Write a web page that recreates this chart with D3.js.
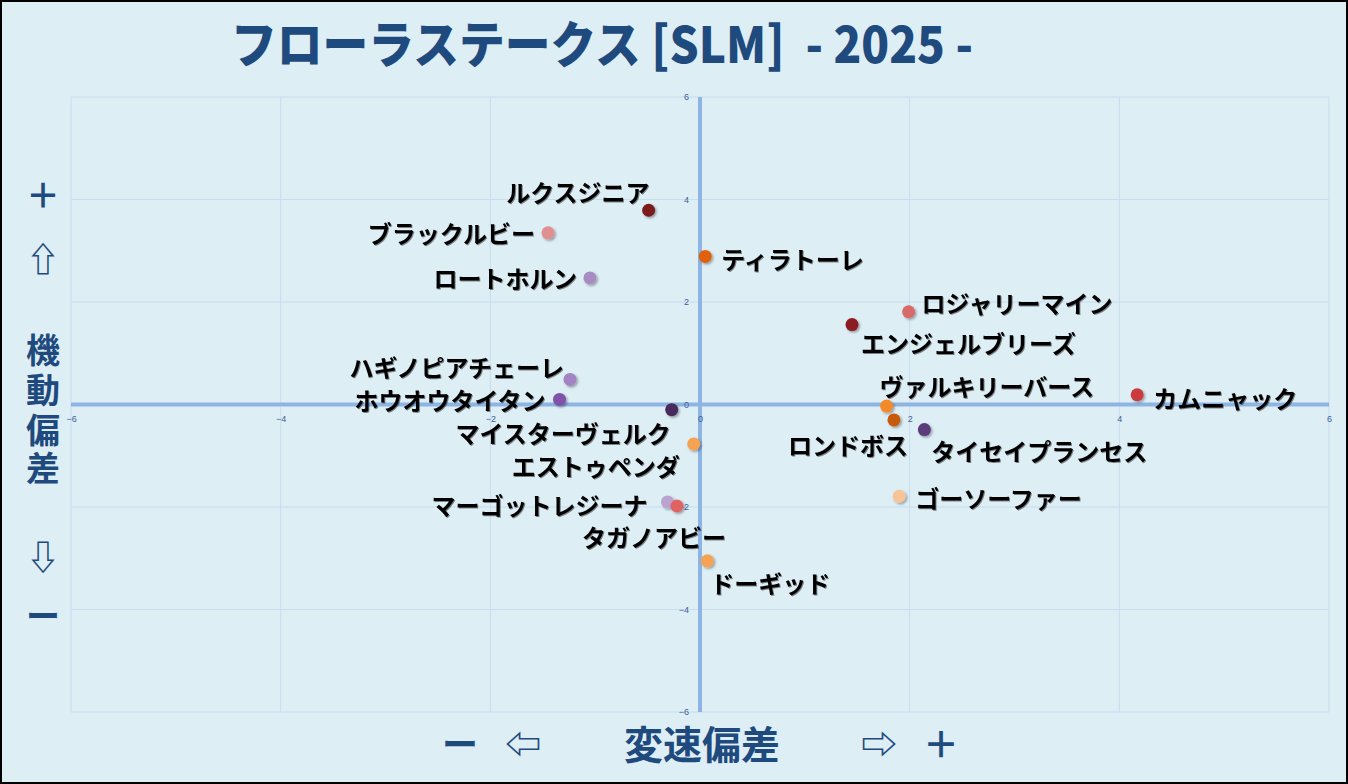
<!DOCTYPE html>
<html>
<head>
<meta charset="utf-8">
<script src="https://cdn.jsdelivr.net/npm/d3@7"></script>
<style>
  body { margin: 0; background: #fff; }
  svg { display: block; }
</style>
</head>
<body>
<div id="chart"></div>
<script>
const width = 1348;
const height = 784;

// horse names and their two deviations
const horses = ["ルクスジニア", "ブラックルビー", "ロートホルン", "ティラトーレ", "ロジャリーマイン",
  "エンジェルブリーズ", "ハギノピアチェーレ", "ホウオウタイタン", "マイスターヴェルク", "ヴァルキリーバース",
  "ロンドボス", "タイセイプランセス", "カムニャック", "エストゥペンダ", "ゴーソーファー",
  "マーゴットレジーナ", "タガノアビー", "ドーギッド"];
const speedDev = [-0.49, -1.45, -1.05, 0.05, 1.99, 1.45, -1.24, -1.34, -0.27, 1.78,
  1.85, 2.14, 4.17, -0.06, 1.90, -0.31, -0.22, 0.07];
const mobilityDev = [3.79, 3.35, 2.47, 2.89, 1.81, 1.56, 0.49, 0.10, -0.10, -0.03,
  -0.30, -0.49, 0.19, -0.77, -1.79, -1.90, -1.98, -3.05];
const xTicks = [-6, -4, -2, 0, 2, 4, 6];
const yTicks = [-6, -4, -2, 0, 2, 4, 6];

const dotColors = ["#7a1d1f", "#e09090", "#a68cc2", "#e0600e", "#d96a6a",
  "#8c1f22", "#a283c4", "#7f52aa", "#4a2b5c", "#f28a2c",
  "#c85a0c", "#5b3b7a", "#c93a3c", "#f5a252", "#f8c396",
  "#baa3cf", "#e06464", "#f5a252"];

// label placement: anchor, dx, dy (from dot centre)
const labelLayout = [["end", 1, -19], ["end", -13, 0], ["end", -13, 0], ["start", 16, 2], ["start", 13, -9],
  ["start", 9, 18], ["end", -6, -13], ["end", -14, 0], ["end", -1, 23], ["start", -7, -21],
  ["end", 14, 25], ["start", 7, 21], ["start", 16, 3], ["end", -14, 22], ["start", 16, 1],
  ["end", -20, 3], ["end", 49, 31], ["start", 3, 22]];

const points = horses.map((h, i) => ({name: h, x: speedDev[i], y: mobilityDev[i], color: dotColors[i], lab: labelLayout[i]}));

const navy = "#1f4a7e";
const jp = "'Noto Sans CJK JP', 'Noto Sans', sans-serif";

const svg = d3.select("#chart")
  .append("svg")
  .attr("width", width)
  .attr("height", height);

const defs = svg.append("defs");
defs.append("filter").attr("id", "dotShadow")
  .attr("x", "-50%").attr("y", "-50%").attr("width", "200%").attr("height", "200%")
  .append("feDropShadow")
  .attr("dx", 1.5).attr("dy", 1.5).attr("stdDeviation", 1.2)
  .attr("flood-color", "#000").attr("flood-opacity", 0.35);
defs.append("filter").attr("id", "textShadow")
  .attr("x", "-10%").attr("y", "-30%").attr("width", "120%").attr("height", "160%")
  .append("feDropShadow")
  .attr("dx", 1).attr("dy", 1).attr("stdDeviation", 0.7)
  .attr("flood-color", "#000").attr("flood-opacity", 0.45);

// background + frame
svg.append("rect")
  .attr("x", 1).attr("y", 1)
  .attr("width", width - 2).attr("height", height - 2)
  .attr("fill", "#ddeef5")
  .attr("stroke", "#000")
  .attr("stroke-width", 2);

const xScale = d3.scaleLinear().domain([-6, 6]).range([71, 1329]);
const yScale = d3.scaleLinear().domain([-6, 6]).range([712, 97]);

/* grid */
svg.append("g").selectAll("line.vg")
  .data(xTicks)
  .enter()
  .append("line")
  .attr("x1", d => xScale(d)).attr("x2", d => xScale(d))
  .attr("y1", yScale(6)).attr("y2", yScale(-6))
  .attr("stroke", "#c8ddf0").attr("stroke-width", 1);

svg.append("g").selectAll("line.hg")
  .data(yTicks)
  .enter()
  .append("line")
  .attr("x1", xScale(-6)).attr("x2", xScale(6))
  .attr("y1", d => yScale(d)).attr("y2", d => yScale(d))
  .attr("stroke", "#c8ddf0").attr("stroke-width", 1);

/* zero axes */
svg.append("line")
  .attr("x1", xScale(-6)).attr("x2", xScale(6))
  .attr("y1", yScale(0)).attr("y2", yScale(0))
  .attr("stroke", "#8db4e3").attr("stroke-width", 4);
svg.append("line")
  .attr("x1", xScale(0)).attr("x2", xScale(0))
  .attr("y1", yScale(6)).attr("y2", yScale(-6))
  .attr("stroke", "#8db4e3").attr("stroke-width", 4);

/* tick labels */
const xAxis = d3.axisBottom(xScale).tickValues(xTicks).tickSize(0).tickPadding(11);
const yAxis = d3.axisLeft(yScale).tickValues(yTicks).tickSize(0).tickPadding(11);

const gx = svg.append("g")
  .attr("transform", "translate(0," + yScale(0) + ")")
  .call(xAxis);
const gy = svg.append("g")
  .attr("transform", "translate(" + xScale(0) + ",0)")
  .call(yAxis);
[gx, gy].forEach(g => {
  g.select(".domain").remove();
  g.selectAll("text")
    .attr("fill", "#3c5f98")
    .style("font-family", "'Liberation Sans', sans-serif")
    .style("font-size", "9px");
});

/* dots */
svg.append("g").selectAll("circle")
  .data(points)
  .enter()
  .append("circle")
  .attr("cx", d => xScale(d.x))
  .attr("cy", d => yScale(d.y))
  .attr("r", 6.5)
  .attr("fill", d => d.color)
  .attr("filter", "url(#dotShadow)");

/* labels */
svg.append("g").selectAll("text")
  .data(points)
  .enter()
  .append("text")
  .attr("x", d => xScale(d.x) + d.lab[1])
  .attr("y", d => yScale(d.y) + d.lab[2])
  .attr("text-anchor", d => d.lab[0])
  .attr("dominant-baseline", "central")
  .attr("fill", "#000")
  .attr("filter", "url(#textShadow)")
  .style("font-family", jp)
  .style("font-weight", 700)
  .style("font-size", "24px")
  .text(d => d.name);

/* title */
const title = svg.append("text")
  .attr("x", 231)
  .attr("y", 63)
  .attr("fill", navy)
  .style("font-family", jp)
  .style("font-weight", 900)
  .style("font-size", "50px")
  .text("フローラステークス [SLM]  - 2025 -")
  .attr("xml:space", "preserve");
title.attr("textLength", 742).attr("lengthAdjust", "spacingAndGlyphs");

/* left axis title */
const leftTitle = svg.append("g")
  .attr("fill", navy)
  .style("font-family", jp)
  .style("font-weight", 700)
  .attr("text-anchor", "middle");
const leftItems = [["＋", 193], ["⇧", 257], ["機", 348], ["動", 388], ["偏", 428], ["差", 466], ["⇩", 555], ["ー", 614]];
leftItems.forEach(d => {
  leftTitle.append("text")
    .attr("x", 43).attr("y", d[1])
    .attr("dominant-baseline", "central")
    .style("font-size", "34px")
    .text(d[0]);
});

/* bottom axis title */
const bottomTitle = svg.append("g")
  .attr("fill", navy)
  .style("font-family", jp)
  .style("font-weight", 700)
  .attr("text-anchor", "middle");
const bottomItems = [["ー", 460, 36], ["⇦", 523, 36], ["変速偏差", 702, 39], ["⇨", 879, 36], ["＋", 941, 36]];
bottomItems.forEach(d => {
  bottomTitle.append("text")
    .attr("x", d[1]).attr("y", 742)
    .attr("dominant-baseline", "central")
    .style("font-size", d[2] + "px")
    .text(d[0]);
});
</script>
</body>
</html>
